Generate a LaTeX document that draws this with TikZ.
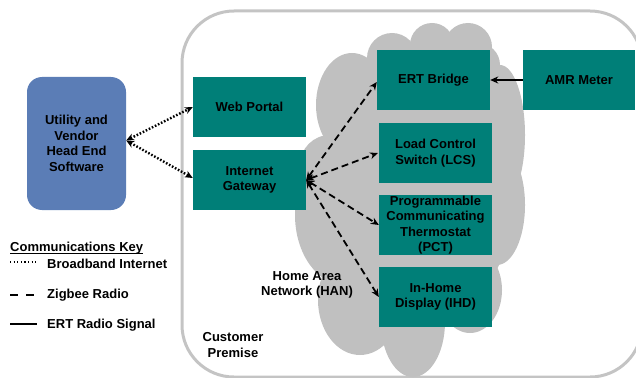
\documentclass[tikz,border=0pt]{standalone}
\usepackage{fontspec}
\setmainfont{Liberation Sans}
\usetikzlibrary{arrows.meta}
\definecolor{tealc}{HTML}{007F78}
\definecolor{bluec}{HTML}{5B7DB6}
\definecolor{cloudc}{HTML}{C0C0C0}
\definecolor{premc}{HTML}{C4C4C4}
\tikzset{
  lbl/.style={font=\bfseries\fontsize{13}{15.5}\selectfont, text=black, align=center, inner sep=0pt},
  tbox/.style={lbl, fill=tealc, minimum width=113pt, minimum height=60pt},
  ubox/.style={lbl, fill=bluec, rounded corners=15pt, minimum width=99pt, minimum height=133pt},
  dotarrow/.style={line width=2.4pt, dash pattern=on 1.6pt off 1.8pt, {Stealth[length=8pt,width=7pt]}-{Stealth[length=8pt,width=7pt]}},
  zigarrow/.style={line width=1.8pt, dash pattern=on 7pt off 4pt, {Stealth[length=8pt,width=7pt]}-{Stealth[length=8pt,width=7pt]}},
  ertarrow/.style={line width=1.6pt, -{Stealth[length=8pt,width=7pt]}},
  keytxt/.style={lbl, anchor=west}
}
\begin{document}
\begin{tikzpicture}[x=1pt,y=-1pt]
\useasboundingbox (0,0) rectangle (636,377);
\begin{scope}
\clip (0,0) rectangle (636,377);
% customer premise outline
\draw[premc, line width=3pt, rounded corners=52pt] (182,11) rectangle (642,377);
% cloud (HAN)
\begin{scope}[cloudc]
\fill (350,60) rectangle (490,310);
\fill (420,190) ellipse [x radius=95, y radius=135];
\fill (352,105) ellipse [x radius=36, y radius=52];
\fill (392,58) circle [radius=25];
\fill (432,45) circle [radius=22];
\fill (468,47) circle [radius=24];
\fill (478,65) circle [radius=22];
\fill (500,135) ellipse [x radius=25, y radius=70];
\fill (497,205) ellipse [x radius=28, y radius=60];
\fill (470,290) ellipse [x radius=32, y radius=43];
\fill (413,322) ellipse [x radius=32, y radius=55];
\fill (360,300) ellipse [x radius=42, y radius=55];
\fill (345,215) ellipse [x radius=50, y radius=70];
\fill (330,165) circle [radius=30];
\end{scope}
\end{scope}
% boxes
\node[ubox] (util) at (76.5,143.5) {Utility and\\Vendor\\Head End\\Software};
\node[tbox] (web) at (249.5,107) {Web Portal};
\node[tbox] (gw) at (249.5,180) {Internet\\Gateway};
\node[tbox] (ert) at (433.5,80) {ERT Bridge};
\node[tbox, minimum width=112pt] (amr) at (579,80) {AMR Meter};
\node[tbox] (lcs) at (435.5,153) {Load Control\\Switch (LCS)};
\node[tbox] (pct) at (435.5,225) {Programmable\\Communicating\\Thermostat\\(PCT)};
\node[tbox] (ihd) at (435.5,297) {In-Home\\Display (IHD)};
% connectors
\draw[dotarrow] ([yshift=3pt]util.east) -- (web.west);
\draw[dotarrow] ([yshift=3pt]util.east) -- ([yshift=2pt]gw.west);
\draw[zigarrow] (gw.east) -- ([yshift=-2pt]ert.west);
\draw[zigarrow] (gw.east) -- ([xshift=-1pt]lcs.west);
\draw[zigarrow] (gw.east) -- (pct.west);
\draw[zigarrow] (gw.east) -- (ihd.west);
\draw[ertarrow] (amr.west) -- (ert.east);
% labels
\node[lbl] (han) at (307,285) {Home Area\\Network (HAN)};
\node[lbl] (prem) at (233,345) {Customer\\Premise};
% legend
\node[keytxt] (key) at (10,248) {Communications Key};
\draw[line width=0.9pt] ([yshift=-1.8pt]key.base west) -- ([yshift=-1.8pt]key.base east);
\node[keytxt] (k1) at (47,264) {Broadband Internet};
\node[keytxt] (k2) at (47,295) {Zigbee Radio};
\node[keytxt] (k3) at (47,325) {ERT Radio Signal};
\draw[line width=1.4pt, dash pattern=on 1.2pt off 2.4pt] (10,262) -- (37,262);
\draw[line width=1.8pt, dash pattern=on 8pt off 8pt] (10,295) -- (35,295);
\draw[line width=1.6pt] (10,324) -- (37,324);
\end{tikzpicture}
\end{document}
